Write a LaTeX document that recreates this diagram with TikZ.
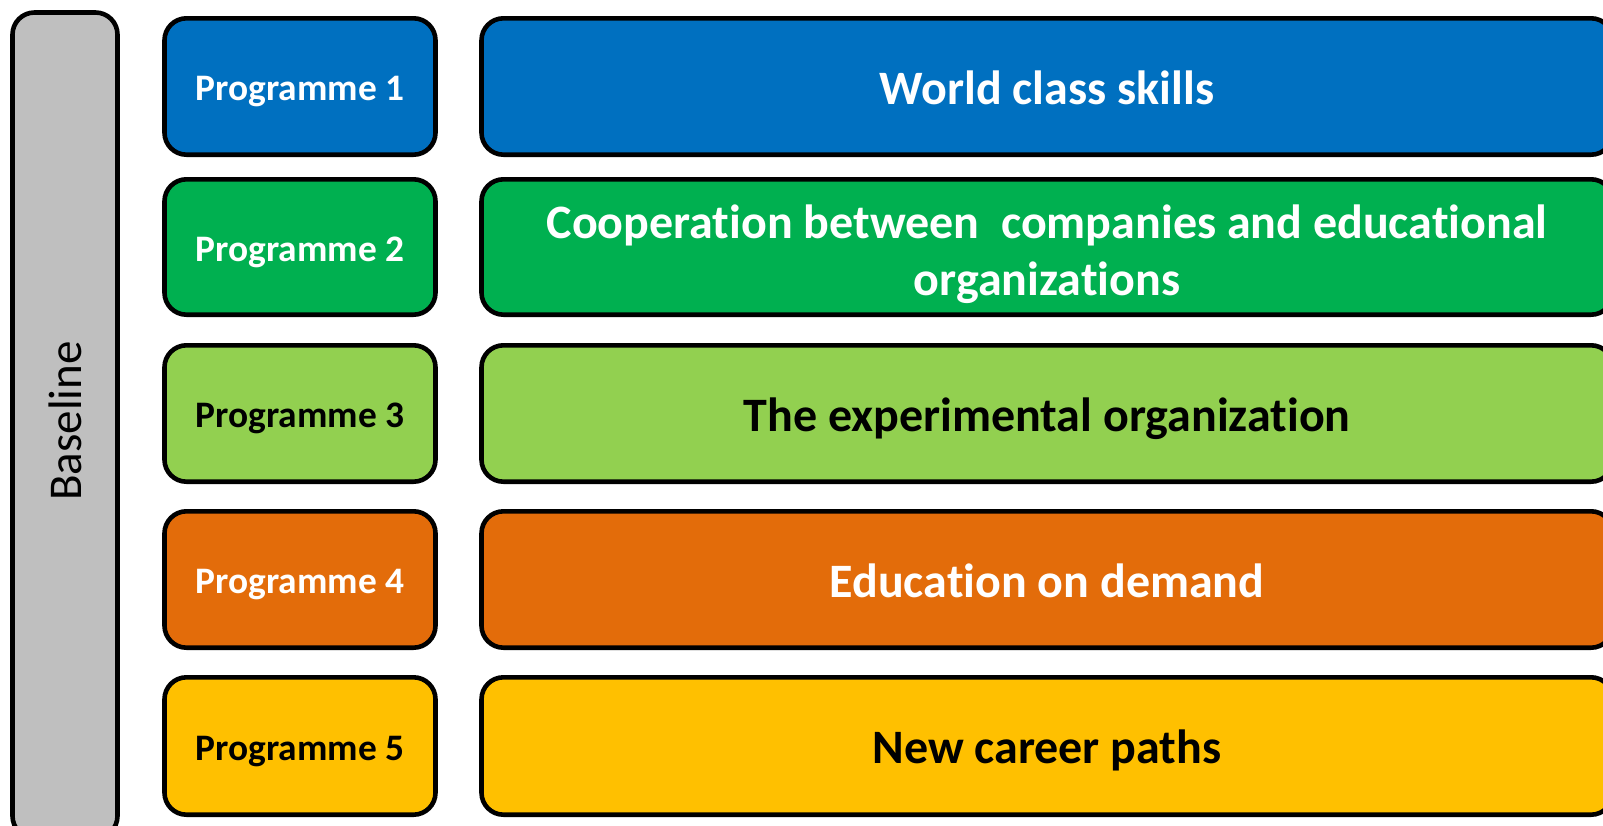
\documentclass[tikz,border=0pt]{standalone}
\usepackage{fontspec}
\setmainfont{Carlito}
\newcommand{\nolig}{\kern0pt }
\definecolor{cblue}{HTML}{0070C0}
\definecolor{cgreen}{HTML}{00B050}
\definecolor{clgreen}{HTML}{92D050}
\definecolor{corange}{HTML}{E36C0A}
\definecolor{cyellow}{HTML}{FFC000}
\definecolor{cgray}{HTML}{BFBFBF}
\tikzset{
  box/.style={draw=black, line width=4.6pt, rounded corners=22pt},
  progtext/.style={font=\fontsize{37.4}{44}\selectfont\bfseries, align=center, anchor=base},
  bigtext/.style={font=\fontsize{48}{57}\selectfont\bfseries, align=center, anchor=base},
}
\begin{document}
\begin{tikzpicture}[x=1pt,y=-1pt]
\path[use as bounding box, clip] (0,0) rectangle (1603,825);
% Baseline column
\draw[box, fill=cgray] (12.5,12.5) rectangle (117.5,838);
\node[rotate=90, font=\fontsize{47}{56}\selectfont] (baseline) at (65,421) {Baseline};
% rows: outer top / outer bottom
\foreach \i/\t/\b/\col/\tc in {
  1/16/157/cblue/white,
  2/177/317/cgreen/white,
  3/343/484/clgreen/black,
  4/509/650/corange/white,
  5/675/817/cyellow/black}{
  \pgfmathsetmacro{\top}{\t+2.3}
  \pgfmathsetmacro{\bot}{\b-2.3}
  \pgfmathsetmacro{\mid}{(\t+\b)/2}
  \draw[box, fill=\col] (164.5,\top) rectangle (435.5,\bot);
  \node[progtext, text=\tc] (prog\i) at (300,\mid+14) {Programme \i};
  \draw[box, fill=\col] (481.5,\top) rectangle (1613,\bot);
  \coordinate (row\i) at (1047,\mid+17.8);
}
\node[bigtext, text=white] (topic1) at (row1) {World class skills};
\node[bigtext, text=white, anchor=center] (topic2) at (1047,254) {Cooperat\nolig ion between\ \ companies and educat\nolig ional\\organizat\nolig ions};
\node[bigtext, text=black] (topic3) at (row3) {The experimental organizat\nolig ion};
\node[bigtext, text=white] (topic4) at (row4) {Educat\nolig ion on demand};
\node[bigtext, text=black] (topic5) at (row5) {New career paths};
\end{tikzpicture}
\end{document}
